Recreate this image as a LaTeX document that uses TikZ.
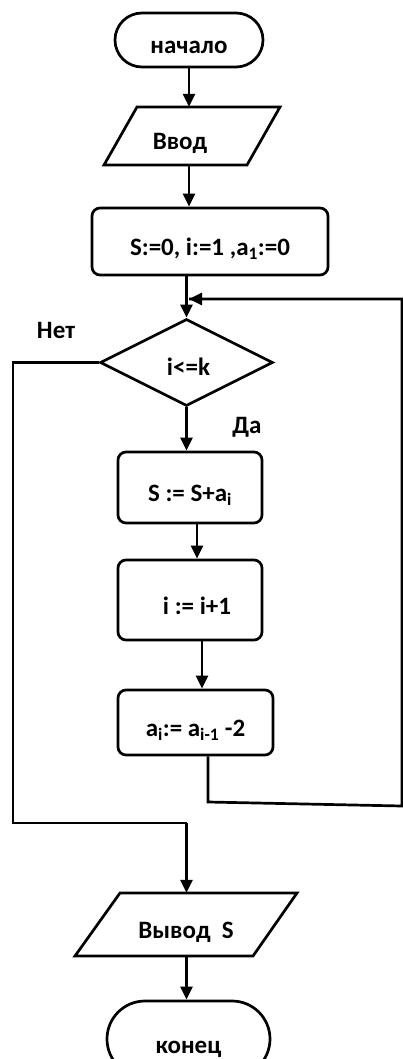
\documentclass[tikz,border=0pt]{standalone}
\usepackage{fontspec}
\setmainfont{Carlito}
\usetikzlibrary{shapes.geometric,shapes.misc,arrows.meta}
\begin{document}
\begin{tikzpicture}[x=1pt,y=-1pt,
  every node/.style={font=\fontsize{25}{30}\selectfont\bfseries, inner sep=0pt},
  ln/.style={line width=2.7pt},
  arr/.style={line width=2.7pt,-{Triangle[length=13pt,width=12pt]}},
  term/.style={rounded rectangle, draw, line width=2.7pt, text height=28pt, text depth=0pt},
  procbox/.style={rectangle, draw, line width=2.7pt, rounded corners=8pt, text height=28pt, text depth=0pt},
  iobox/.style={rectangle, draw=none, text height=28pt, text depth=0pt},
  decbox/.style={diamond, draw, line width=2.7pt, text height=26pt, text depth=0pt},
  lbl/.style={}
]
\useasboundingbox (0,0) rectangle (403,1059);
% start
\node[term, minimum width=148pt, minimum height=54pt] (start) at (189,40) {начало};
% input parallelogram
\draw[ln] (137,107) -- (280,107) -- (247,165) -- (104,165) -- cycle;
\node[iobox, minimum width=140pt, minimum height=58pt] (in) at (192,136) {Ввод\hspace*{24pt}};
% init
\node[procbox, minimum width=236pt, minimum height=67pt] (init) at (210,241.5) {S:=0, i:=1 ,a\textsubscript{1}:=0};
% decision
\node[decbox, minimum width=173pt, minimum height=87pt] (dia) at (186.5,362.5) {\hspace*{4pt}i<=k};
% body
\node[procbox, minimum width=144pt, minimum height=71pt] (s1) at (190,487.5) {S := S+a\textsubscript{i}};
\node[procbox, minimum width=144pt, minimum height=80pt] (s2) at (190,600) {\hspace*{14pt}i := i+1};
\node[procbox, minimum width=155pt, minimum height=65pt] (s3) at (195.5,722.5) {a\textsubscript{i}:= a\textsubscript{i-1} -2};
% output parallelogram
\draw[ln] (120,893) -- (297,893) -- (253,956) -- (75,956) -- cycle;
\node[iobox, minimum width=170pt, minimum height=63pt] (out) at (186,924.5) {Вывод\ \ S};
% end
\node[term, minimum width=163pt, minimum height=76pt] (end) at (188.5,1039) {конец};
% labels
\node[lbl] (no) at (56,330) {Нет};
\node[lbl] (yes) at (247,427) {Да};
% coordinates
\coordinate (lt) at (13,362.5);
\coordinate (lb) at (13,823);
\coordinate (bl) at (208,802);
\coordinate (br) at (402,806);
\coordinate (tr) at (402,299);
\coordinate (tin) at (187,299);
% connectors
\draw[arr] (start.south) -- (start.south |- in.north);
\draw[arr] (start.south |- in.south) -- (start.south |- init.north);
\draw[arr] (dia.north |- init.south) -- (dia.north);
\draw[arr] (dia.south) -- (dia.south |- s1.north);
\draw[arr] ([xshift=7pt]s1.south) -- ([xshift=7pt]s2.north);
\draw[arr] ([xshift=12pt]s2.south) -- ([xshift=12pt]s2.south |- s3.north);
\draw[ln] ([xshift=12.5pt]s3.south) -- (bl) -- (br) -- (tr) -- ([xshift=2pt]tin);
\draw[arr] (tr) -- ([xshift=2pt]tin);
\draw[ln] (dia.west) -- (lt) -- (lb) -- (lb -| dia.south);
\draw[arr] (lb -| dia.south) -- (dia.south |- out.north);
\draw[arr] (dia.south |- out.south) -- (dia.south |- end.north);
\end{tikzpicture}
\end{document}
